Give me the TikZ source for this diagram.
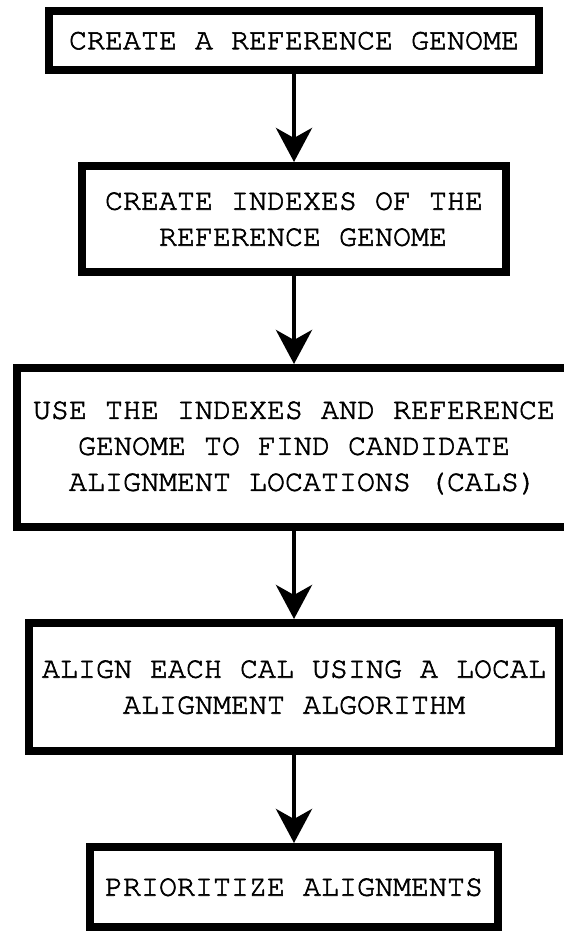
\documentclass[tikz,border=0pt]{standalone}
\usepackage{tikz}
\usetikzlibrary{arrows.meta, positioning}
% Courier, set a little heavier (fill + thin stroke)
\newcommand{\flowfont}{\fontencoding{T1}\fontfamily{pcr}\fontsize{30}{36}\selectfont
    \special{pdf:literal direct 2 Tr 0.6 w}}
\tikzstyle{stepbox} = [rectangle, draw=black, line width=8pt, inner sep=0pt,
    align=center, font=\flowfont]
\tikzstyle{arrow} = [line width=4.5pt, -{Stealth[length=34pt, width=36pt, inset=10pt]}]

\begin{document}
\begin{tikzpicture}[x=1pt, y=-1pt, node distance=88pt]
  \useasboundingbox (0,0) rectangle (563,931);
  % Flow steps
  \node[stepbox, minimum width=490pt, minimum height=59pt] (genome) at (294,40.5)
    {CREATE A REFERENCE GENOME};
  \node[stepbox, below=of genome, minimum width=424pt, minimum height=106pt] (index)
    {CREATE INDEXES OF THE\\~REFERENCE GENOME};
  \node[stepbox, below=of index, minimum width=555pt, minimum height=159pt] (cals)
    {USE THE INDEXES AND REFERENCE\\GENOME TO FIND CANDIDATE\\~ALIGNMENT LOCATIONS (CALS)};
  \node[stepbox, below=of cals, minimum width=530pt, minimum height=128pt] (align)
    {ALIGN EACH CAL USING A LOCAL\\ALIGNMENT ALGORITHM};
  \node[stepbox, below=of align, minimum width=408pt, minimum height=80pt] (rank)
    {PRIORITIZE ALIGNMENTS};

  \draw[arrow] (genome) -- (index);
  \draw[arrow] (index) -- (cals);
  \draw[arrow] (cals) -- (align);
  \draw[arrow] (align) -- (rank);
\end{tikzpicture}
\end{document}
